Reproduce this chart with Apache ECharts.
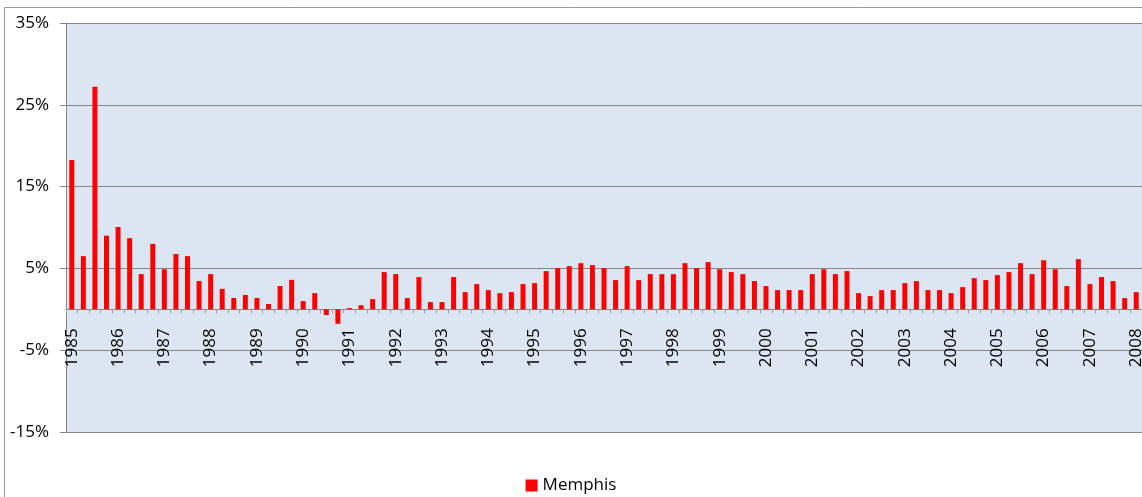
<!DOCTYPE html>
<html>
<head>
<meta charset="utf-8">
<script src="https://cdn.jsdelivr.net/npm/echarts@6/dist/echarts.min.js"></script>
<style>
	html, body { margin: 0; padding: 0; background: #fff; }
	#bar-container { width: 1142px; height: 497px; }
</style>
</head>
<body>
<div id="bar-container"></div>
<script>
// 年份与季度
let years = [1985, 1986, 1987, 1988, 1989, 1990, 1991, 1992, 1993, 1994, 1995, 1996,
	1997, 1998, 1999, 2000, 2001, 2002, 2003, 2004, 2005, 2006, 2007, 2008]
let quarters = ['Q1', 'Q2', 'Q3', 'Q4']
let seriesName = 'Memphis'

// 季度涨幅（%），1985 Q1 - 2008 Q1
let memphis = [
	18.25, 6.5, 27.2, 9.0, 10.06, 8.7, 4.3, 8.0, 4.9, 6.76,
	6.5, 3.46, 4.3, 2.5, 1.38, 1.75, 1.38, 0.65, 2.85, 3.6,
	1.0, 1.98, -0.7, -1.77, 0.15, 0.5, 1.25, 4.55, 4.3, 1.37,
	3.94, 0.88, 0.88, 3.94, 2.1, 3.08, 2.35, 1.98, 2.1, 3.08,
	3.2, 4.67, 5.04, 5.28, 5.64, 5.4, 5.04, 3.57, 5.28, 3.57,
	4.3, 4.3, 4.3, 5.64, 5.04, 5.77, 4.9, 4.55, 4.3, 3.45,
	2.84, 2.35, 2.35, 2.35, 4.3, 4.9, 4.3, 4.67, 1.98, 1.61,
	2.35, 2.35, 3.2, 3.45, 2.35, 2.35, 1.98, 2.71, 3.81, 3.57,
	4.18, 4.55, 5.64, 4.3, 6.0, 4.9, 2.84, 6.13, 3.08, 3.94,
	3.45, 1.37, 2.1
]

let categories = []
for (let i = 0; i < years.length; i++) {
	for (let j = 0; j < quarters.length; j++) {
		if (categories.length < memphis.length) {
			categories.push(years[i] + ' ' + quarters[j])
		}
	}
}

let fontFamily = '"Open Sans", "Noto Sans", sans-serif'
let lineColor = '#878787'
let yMin = -15
let yMax = 35
let gridTop = 23
let gridBottom = 65
let gridHeight = 497 - gridTop - gridBottom
// 把类目轴整体上移到 0 的位置
let zeroOffset = -gridHeight * (0 - yMin) / (yMax - yMin)

let option = {
	animation: false,
	backgroundColor: '#fff',
	graphic: [
		{
			type: 'rect',
			shape: { x: 4.5, y: 7.5, width: 1200, height: 600 },
			style: { fill: 'none', stroke: '#9a9a9a', lineWidth: 1 },
			silent: true,
		},
	],
	grid: {
		left: 66,
		top: gridTop,
		right: 0,
		bottom: gridBottom,
		outerBoundsMode: 'none',
		show: true,
		backgroundColor: '#dce6f2',
		borderWidth: 0,
	},
	legend: {
		data: [seriesName],
		left: 'center',
		top: 472,
		icon: 'rect',
		itemWidth: 12,
		itemHeight: 12,
		itemGap: 4,
		textStyle: {
			fontFamily: fontFamily,
			fontSize: 17,
			color: '#000',
		},
	},
	xAxis: {
		type: 'category',
		data: categories,
		boundaryGap: true,
		position: 'bottom',
		offset: zeroOffset,
		axisLine: {
			onZero: false,
			lineStyle: { color: lineColor, width: 1 },
		},
		axisTick: {
			show: true,
			interval: 0,
			length: 4,
			lineStyle: { color: '#a0a0a0' },
		},
		axisLabel: {
			interval: 3,
			rotate: 90,
			margin: 19,
			fontFamily: fontFamily,
			fontSize: 17,
			color: '#000',
			formatter: function (value) {
				return value.split(' ')[0]
			},
		},
		splitLine: { show: false },
	},
	yAxis: {
		type: 'value',
		min: yMin,
		max: yMax,
		interval: 10,
		axisLine: {
			show: true,
			lineStyle: { color: lineColor, width: 1 },
		},
		axisTick: {
			show: true,
			length: 6,
			lineStyle: { color: lineColor },
		},
		axisLabel: {
			margin: 17,
			fontFamily: fontFamily,
			fontSize: 17,
			color: '#000',
			formatter: '{value}%',
		},
		splitLine: {
			show: true,
			lineStyle: { color: lineColor, width: 1 },
		},
	},
	series: [
		{
			name: seriesName,
			type: 'bar',
			data: memphis,
			barWidth: '43%',
			itemStyle: { color: '#ff0000' },
		},
	],
}

let chart = echarts.init(document.getElementById('bar-container'))
chart.setOption(option)
</script>
</body>
</html>
